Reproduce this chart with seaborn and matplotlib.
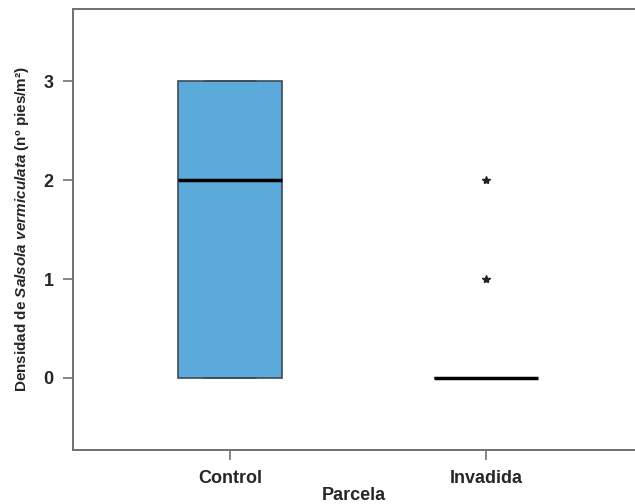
import matplotlib
matplotlib.use("Agg")
import matplotlib.pyplot as plt
import seaborn as sns
import pandas as pd

# densidad de Salsola vermiculata por parcela (nº pies/m2)
control = [0, 0, 2, 3, 3]
invadida = [0, 0, 0, 0, 0, 0, 0, 0, 0, 0, 1, 2]
parcelas = ["Control", "Invadida"]

df = pd.DataFrame({
    "Parcela": ["Control"] * len(control) + ["Invadida"] * len(invadida),
    "Densidad": control + invadida,
})

sns.set_style("white")
plt.rcParams["font.family"] = ["Liberation Sans", "DejaVu Sans"]
plt.rcParams["mathtext.fontset"] = "custom"
plt.rcParams["mathtext.it"] = "Liberation Sans:italic:bold"
plt.rcParams["mathtext.rm"] = "Liberation Sans:bold"

fig = plt.figure(figsize=(6.35, 5.04), dpi=100)
ax = fig.add_axes([0.115, 0.107, 0.885, 0.875])

sns.boxplot(data=df, x="Parcela", y="Densidad", order=parcelas, ax=ax,
            color="#5BAAD9", width=0.405, saturation=1, linecolor="#3d4b5a",
            linewidth=1.2,
            medianprops=dict(color="black", linewidth=2.5),
            flierprops=dict(marker="*", markersize=6, markerfacecolor="#222222",
                            markeredgecolor="#222222"))

ax.set_xlim(-0.613, 1.58)
ax.set_ylim(-0.73, 3.73)
ax.set_yticks([0, 1, 2, 3])

for side in ["top", "bottom", "left"]:
    ax.spines[side].set_color("#707070")
    ax.spines[side].set_linewidth(1.4)
ax.spines["right"].set_visible(False)

ax.tick_params(axis="both", direction="out", length=7, width=1.2, color="#707070",
               labelsize=13, pad=7, bottom=True, left=True)
for lab in ax.get_xticklabels() + ax.get_yticklabels():
    lab.set_fontweight("bold")

ax.set_xlabel("Parcela", fontsize=13, fontweight="bold", labelpad=0)
ax.set_ylabel(r"Densidad de $Salsola\ vermiculata$ (nº pies/m²)",
              fontsize=11, fontweight="bold", labelpad=9)

fig.savefig("out.png", dpi=100)
